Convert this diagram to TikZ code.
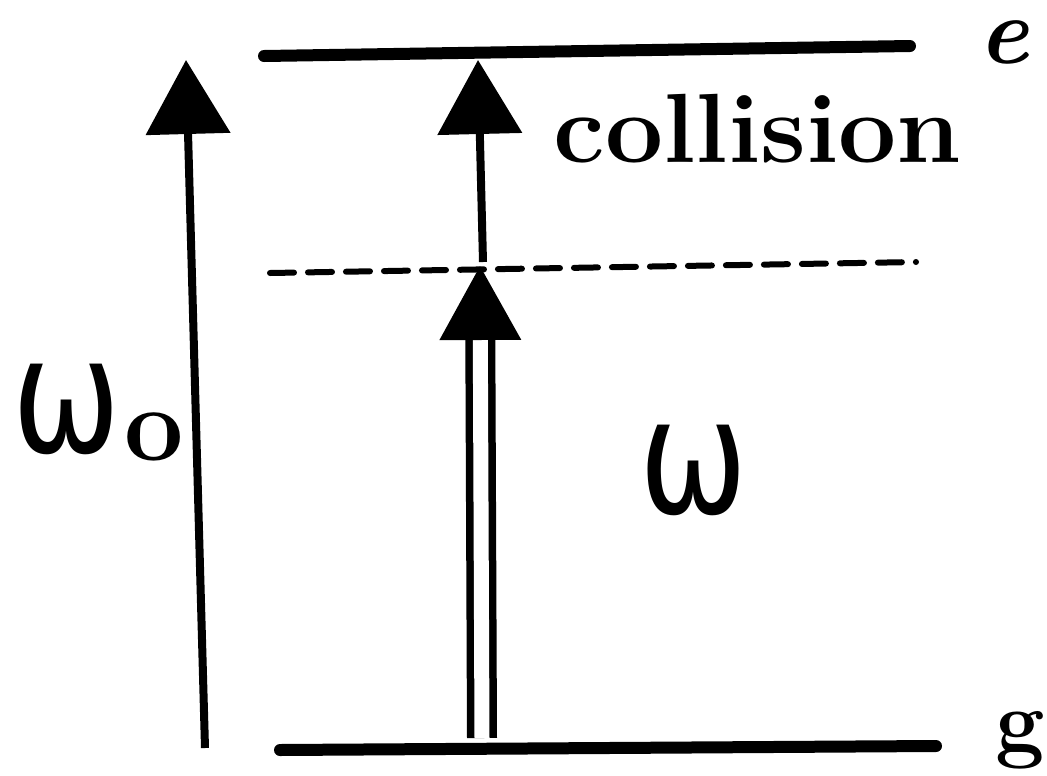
\documentclass[tikz,border=0pt]{standalone}
\usepackage{fontspec}
\usepackage{tikz}
\usetikzlibrary{arrows.meta}
\newfontfamily\omegafont{DejaVu Sans}
\newcommand{\omg}{\scalebox{0.92}[1.15]{ω}}
\tikzset{
  levelline/.style={line width=1.2mm,line cap=round},
  dashlevel/.style={line width=0.6mm,line cap=round,dash pattern=on 2.4mm off 1.4mm},
  uparrow/.style={line width=0.8mm,-{Triangle[length=7.4mm,width=8.3mm]}},
  dblarrow/.style={line width=0.75mm,double,double distance=1.5mm,-{Triangle[length=7.4mm,width=8.0mm]}},
  levellabel/.style={inner sep=0pt,anchor=base},
  freqlabel/.style={font=\fontsize{40}{44}\omegafont,inner sep=0pt,anchor=base}
}
\begin{document}
\begin{tikzpicture}
  \useasboundingbox (0,0) rectangle (10.47,-7.76);
  % levels
  \coordinate (eL) at (2.64,-0.56);
  \coordinate (eR) at (9.10,-0.46);
  \coordinate (vL) at (2.70,-2.73);
  \coordinate (vR) at (9.16,-2.62);
  \coordinate (gL) at (2.80,-7.50);
  \coordinate (gR) at (9.36,-7.46);
  \draw[levelline] (eL) -- (eR);
  \draw[dashlevel] (vL) -- (vR);
  \draw[levelline] (gL) -- (gR);
  \node[levellabel,font=\fontsize{27}{32}\selectfont\bfseries\itshape] (e) at (10.04,-0.63) {e};
  \node[levellabel,font=\fontsize{25}{30}\selectfont\bfseries] (g) at (10.20,-7.51) {g};

  % transitions
  \coordinate (w0bot) at (2.05,-7.48);
  \coordinate (w0top) at (1.86,-0.60);
  \coordinate (colbot) at (4.83,-2.62);
  \coordinate (coltop) at (4.78,-0.60);
  \coordinate (wbot) at (4.82,-7.38);
  \coordinate (wtop) at (4.80,-2.66);
  \draw[uparrow] (w0bot) -- (w0top);
  \draw[uparrow] (colbot) -- (coltop);
  \draw[dblarrow] (wbot) -- (wtop);

  \node[inner sep=0pt,anchor=base west,font=\fontsize{28}{32}\selectfont\bfseries]
    (collision) at (5.53,-1.62) {\scalebox{1.05}[1]{collision}};
  \node[freqlabel,anchor=base west] (w0) at (0.12,-4.52)
    {\omg\kern1pt\raisebox{-2.5pt}{\fontsize{30}{34}\selectfont\rmfamily\bfseries o}};
  \node[freqlabel] (w) at (6.94,-5.13) {\omg};
\end{tikzpicture}
\end{document}
